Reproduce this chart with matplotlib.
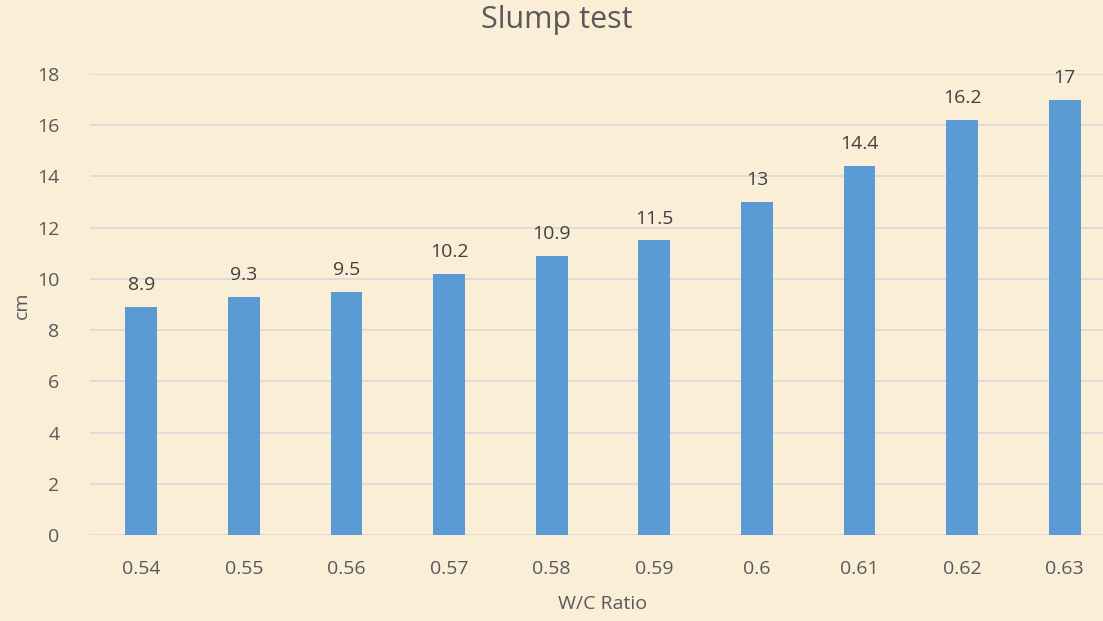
import matplotlib.pyplot as plt
import numpy as np

ratios = ["0.54", "0.55", "0.56", "0.57", "0.58", "0.59", "0.6", "0.61", "0.62", "0.63"]
slump = [8.9, 9.3, 9.5, 10.2, 10.9, 11.5, 13, 14.4, 16.2, 17]

bg = "#FAEEd7"
txt = "#595959"

plt.rcParams['font.family'] = ['Open Sans', 'DejaVu Sans']

fig = plt.figure(figsize=(11.03, 6.21), dpi=100)
fig.patch.set_facecolor(bg)
ax = fig.add_axes([90 / 1103, 1 - 535 / 621, 1026 / 1103, (535 - 74) / 621])
ax.set_facecolor(bg)

x = np.arange(len(ratios))
bars = ax.bar(x, slump, width=0.31, color="#5B9BD5", zorder=3)
for b, v in zip(bars, slump):
    ax.text(b.get_x() + b.get_width() / 2, v + 0.5, "{:g}".format(v),
            ha="center", va="bottom", fontsize=14, color="#404040")

ax.set_xlim(-0.5, len(ratios) - 0.5)
ax.set_ylim(0, 18)
ax.set_yticks(range(0, 19, 2))
ax.set_xticks(x)
ax.set_xticklabels(ratios)
ax.yaxis.grid(True, color="#D9D9D9", linewidth=1.2, zorder=0)
ax.tick_params(axis="both", length=0, labelsize=14, colors=txt)
ax.tick_params(axis="x", pad=18)
ax.tick_params(axis="y", pad=22)
for s in ax.spines.values():
    s.set_visible(False)

# axis titles placed by hand, like the original
fig.text(603 / 1103, 1 - 604 / 621, "W/C Ratio", ha="center", va="center",
         fontsize=14, color=txt)
fig.text(22 / 1103, 1 - 305 / 621, "cm", ha="center", va="center",
         rotation=90, fontsize=14, color=txt)
fig.text(557 / 1103, 1 - 20 / 621, "Slump test", ha="center", va="center",
         fontsize=22, color=txt)

plt.savefig("out.png", facecolor=bg)
